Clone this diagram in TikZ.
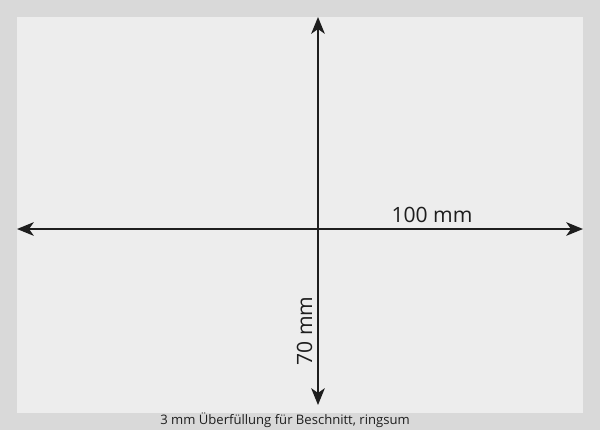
\documentclass[tikz,border=0pt]{standalone}
\usepackage{fontspec}
\setmainfont{Open Sans}
\usetikzlibrary{arrows.meta}

\definecolor{bleedgrey}{HTML}{D9D9D9}
\definecolor{papergrey}{HTML}{EDEDED}
\definecolor{inkdark}{HTML}{1E1E1E}

\begin{document}
\begin{tikzpicture}
[
	x	= 0.025cm,	% one unit is one pixel of the 600 x 430 layout
	y	= -0.025cm,	% y runs downwards, as in the layout
	%
	%
	% ----------- options for the measures --------------
	measure/.style =
	{
		draw		= inkdark,
		line width	= 1.5pt,
		{Stealth[length=4.2mm, width=3.4mm, inset=1.2mm]}-{Stealth[length=4.2mm, width=3.4mm, inset=1.2mm]}
	},
	%
	size label/.style =
	{
		text		= inkdark,
		font		= \fontsize{15}{18}\selectfont,
		inner sep	= 0pt
	},
	%
	note label/.style =
	{
		text		= inkdark,
		font		= \fontsize{9.3}{11}\selectfont,
		inner sep	= 0pt
	}
]



% bleed and paper
\fill[bleedgrey] (0,0) rectangle (600,430);
\fill[papergrey] (17,17) rectangle (583,413);

% end points of the measures
\coordinate (left)   at (17,229);
\coordinate (right)  at (583,229);
\coordinate (top)    at (318,17);
\coordinate (bottom) at (318,405);

% measures
\draw[measure] (left) -- (right);
\draw[measure] (top) -- (bottom);

% labels
\node[size label, anchor = base] (width) at (432,222) {100 mm};
\node[size label, anchor = base, rotate = 90] (height) at (312,331) {70 mm};
\node[note label] (bleed) at (285,420.5) {3 mm Überfüllung für Beschnitt, ringsum};



\end{tikzpicture}
\end{document}
